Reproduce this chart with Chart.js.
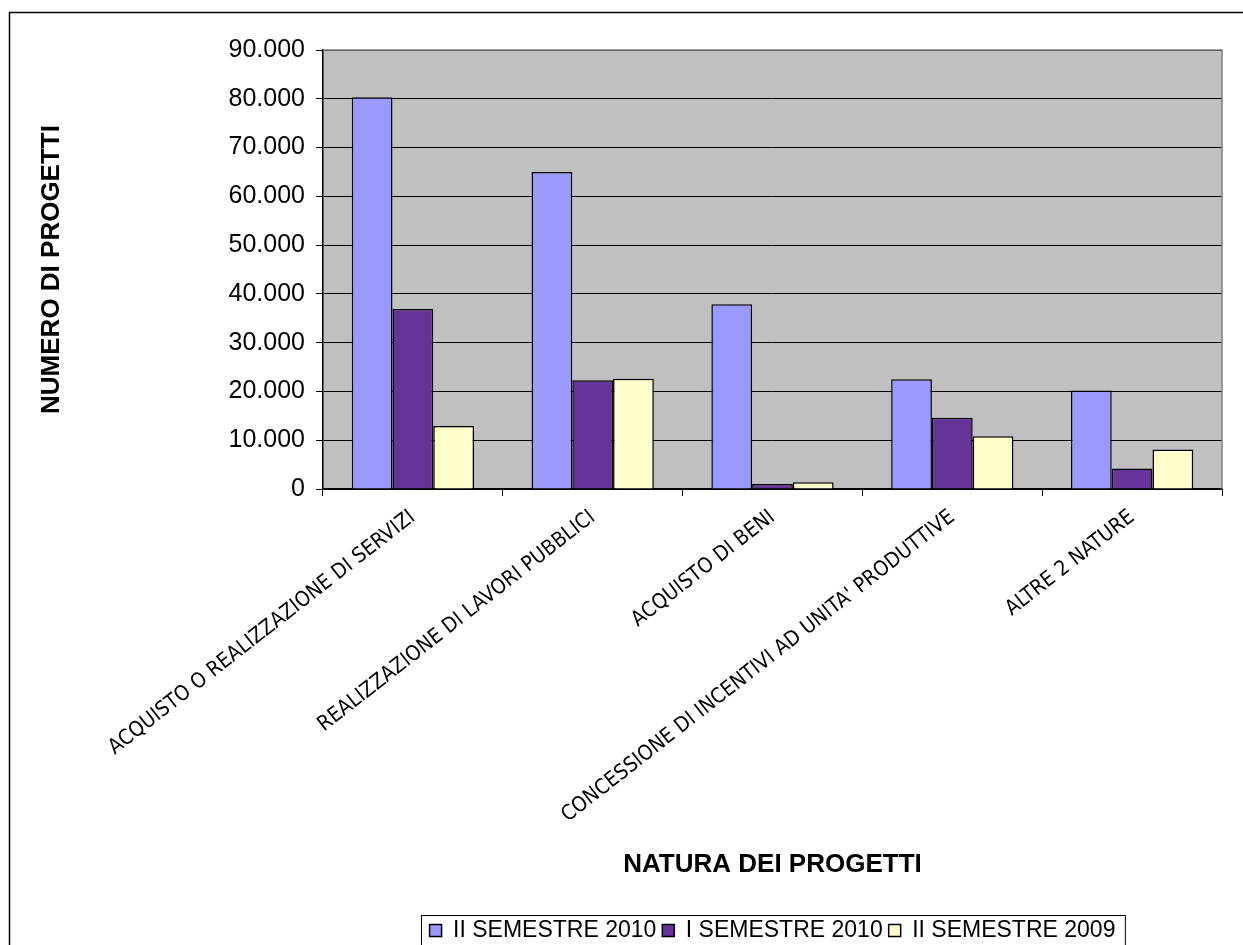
<!DOCTYPE html>
<html>
<head>
<meta charset="utf-8">
<script src="https://cdn.jsdelivr.net/npm/chart.js@4"></script>
<style>
  html, body { margin: 0; padding: 0; background: #fff; }
  #wrap { width: 1243px; height: 945px; position: relative; }
</style>
</head>
<body>
<div id="wrap"><canvas id="natureChart"></canvas></div>
<script>
const categories = [
  "ACQUISTO O REALIZZAZIONE DI SERVIZI",
  "REALIZZAZIONE DI LAVORI PUBBLICI",
  "ACQUISTO DI BENI",
  "CONCESSIONE DI INCENTIVI AD UNITA' PRODUTTIVE",
  "ALTRE 2 NATURE"
];
const seriesNames = ["II SEMESTRE 2010", "I SEMESTRE 2010", "II SEMESTRE 2009"];
const secondSem2010 = [80300, 65000, 37900, 22500, 20200];
const firstSem2010 = [36900, 22300, 1000, 14600, 4200];
const secondSem2009 = [12900, 22600, 1400, 10800, 8100];
const yTicks = [0, 10000, 20000, 30000, 40000, 50000, 60000, 70000, 80000, 90000];

const ARIAL = "'Liberation Sans', Arial, sans-serif";
const NARROW = "'Liberation Sans Narrow', 'DejaVu Sans Condensed', sans-serif";
const LEGEND_FONT = 23;
const LEGEND_BOX = 12;
const LEGEND_PAD = 6;

function itNumber(v) {
  return String(v).replace(/\B(?=(\d{3})+(?!\d))/g, ".");
}

const framePlugin = {
  id: "excelFrame",
  afterLayout(chart) {
    // centre the legend under the plot area and nudge it down a bit
    const lg = chart.legend, a = chart.chartArea;
    const w = lg.right - lg.left;
    const mid = (a.left + a.right) / 2;
    lg.left = mid - w / 2;
    lg.right = mid + w / 2;
    lg.top += 7;
    lg.bottom += 7;
  },
  beforeDraw(chart) {
    const { ctx, chartArea: a } = chart;
    ctx.save();
    ctx.fillStyle = "#ffffff";
    ctx.fillRect(0, 0, chart.width, chart.height);
    ctx.strokeStyle = "#000";
    ctx.lineWidth = 1.5;
    ctx.strokeRect(9.5, 12.5, chart.width + 20, chart.height + 20);
    ctx.fillStyle = "#c0c0c0";
    ctx.fillRect(a.left, a.top, a.right - a.left, a.bottom - a.top);
    ctx.restore();
  },
  afterDraw(chart) {
    const { ctx, chartArea: a } = chart;
    ctx.save();
    // grey top / right edge of plot area
    ctx.strokeStyle = "#808080";
    ctx.lineWidth = 1.5;
    ctx.beginPath();
    ctx.moveTo(a.left, a.top);
    ctx.lineTo(a.right, a.top);
    ctx.lineTo(a.right, a.bottom);
    ctx.stroke();
    // legend frame, measured from the legend's own text
    ctx.font = LEGEND_FONT + "px " + ARIAL;
    let total = 0;
    seriesNames.forEach(n => {
      total += LEGEND_BOX + LEGEND_FONT / 2 + ctx.measureText(n).width;
    });
    total += LEGEND_PAD * (seriesNames.length - 1);
    const mid = (a.left + a.right) / 2;
    const l = Math.round(mid - total / 2 - 9) + 0.5;
    const t = Math.round(chart.legend.top + 2) + 0.5;
    ctx.strokeStyle = "#000";
    ctx.lineWidth = 1;
    ctx.strokeRect(l, t, total + 18, 80);
    ctx.restore();
  }
};

const ctx = document.getElementById("natureChart").getContext("2d");
new Chart(ctx, {
  type: "bar",
  data: {
    labels: categories,
    datasets: [
      { label: seriesNames[0], data: secondSem2010, backgroundColor: "#9999ff" },
      { label: seriesNames[1], data: firstSem2010, backgroundColor: "#663399" },
      { label: seriesNames[2], data: secondSem2009, backgroundColor: "#ffffcc" }
    ].map(d => Object.assign(d, {
      borderColor: "#000",
      borderWidth: 1.5,
      categoryPercentage: 0.68,
      barPercentage: 1.0
    }))
  },
  options: {
    responsive: true,
    maintainAspectRatio: false,
    animation: false,
    layout: { padding: { left: 20, right: 21, top: 50, bottom: 0 } },
    plugins: {
      tooltip: { enabled: false },
      legend: {
        position: "bottom",
        labels: {
          color: "#000",
          font: { family: ARIAL, size: LEGEND_FONT },
          boxWidth: LEGEND_BOX,
          boxHeight: LEGEND_BOX,
          padding: LEGEND_PAD
        }
      }
    },
    scales: {
      x: {
        afterFit: s => { s.height = 417; },
        grid: { drawOnChartArea: false, drawTicks: true, tickLength: 7, color: "#000" },
        border: { color: "#000", width: 1.5 },
        ticks: {
          color: "#000",
          font: { family: NARROW, size: 21 },
          minRotation: 38,
          maxRotation: 38,
          autoSkip: false,
          padding: 9
        },
        title: {
          display: true,
          text: "NATURA DEI PROGETTI",
          color: "#000",
          font: { family: ARIAL, size: 26, weight: "bold" },
          padding: { top: 0, bottom: 26 }
        }
      },
      y: {
        min: 0,
        max: 90000,
        afterFit: s => { s.width = 303; },
        afterBuildTicks: s => { s.ticks = yTicks.map(v => ({ value: v })); },
        grid: { color: "#000", lineWidth: 1, tickLength: 7 },
        border: { color: "#000", width: 1.5 },
        ticks: {
          color: "#000",
          font: { family: ARIAL, size: 25 },
          padding: 11,
          callback: v => itNumber(v)
        },
        title: {
          display: true,
          text: "NUMERO DI PROGETTI",
          color: "#000",
          font: { family: ARIAL, size: 26, weight: "bold" },
          padding: { top: 16, bottom: 0 }
        }
      }
    }
  },
  plugins: [framePlugin]
});
</script>
</body>
</html>
